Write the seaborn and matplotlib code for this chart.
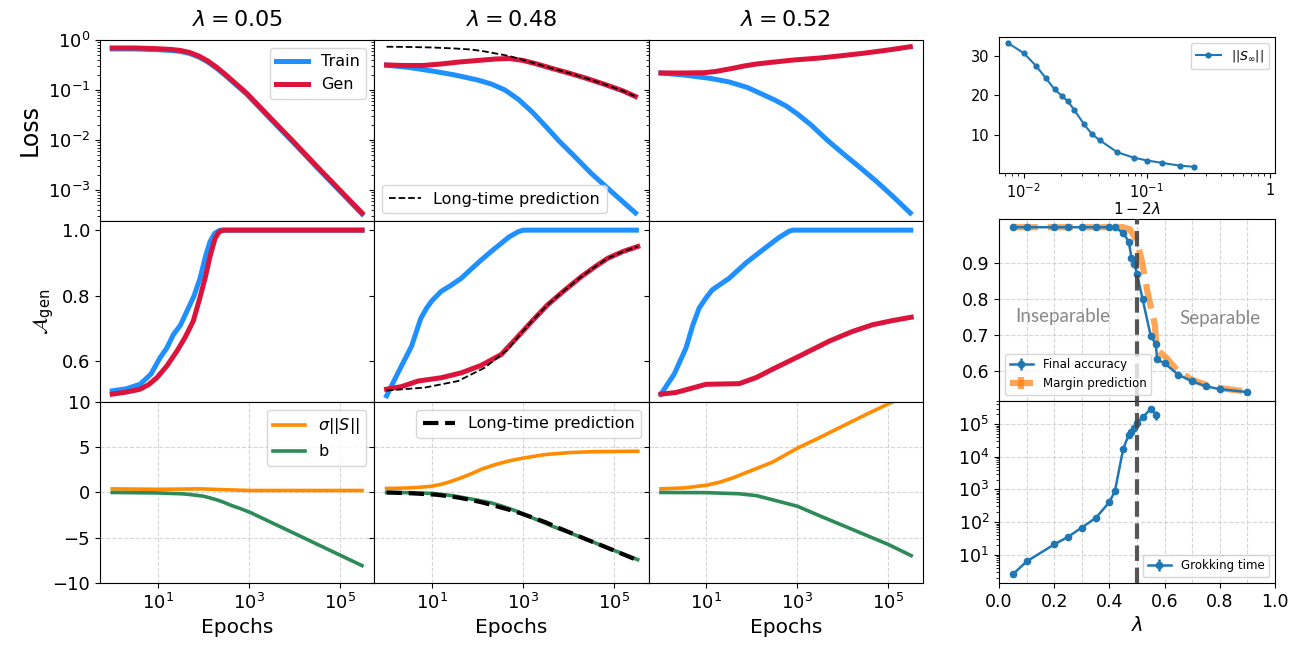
import numpy as np
import matplotlib
matplotlib.use("Agg")
import matplotlib.pyplot as plt
import matplotlib.ticker as mticker
import seaborn as sns

plt.rcParams['font.family'] = ['DejaVu Sans']
plt.rcParams['mathtext.fontset'] = 'dejavusans'

# ---------------- data (log10 epochs, values) ----------------
lambdas_cols = ["0.05", "0.48", "0.52"]

# column 1: lambda = 0.05
c1_loss_train_lx = [0, 0.5, 1.0, 1.3, 1.5, 1.7, 1.9, 2.1, 2.3, 2.5, 2.7, 2.95, 3.5, 4.0, 4.5, 5.0, 5.49]
c1_loss_train_ly = [-0.18, -0.18, -0.195, -0.21, -0.23, -0.27, -0.34, -0.44, -0.57, -0.72, -0.88, -1.08, -1.6, -2.07, -2.55, -3.02, -3.48]
c1_loss_gen_lx = [0, 0.5, 1.0, 1.3, 1.5, 1.7, 1.9, 2.1, 2.3, 2.5, 2.7, 2.95, 3.5, 4.0, 4.5, 5.0, 5.49]
c1_loss_gen_ly = [-0.16, -0.16, -0.175, -0.19, -0.21, -0.25, -0.32, -0.42, -0.55, -0.70, -0.86, -1.06, -1.58, -2.05, -2.53, -3.0, -3.46]
c1_acc_train_lx = [0, 0.3, 0.61, 0.85, 1.05, 1.2, 1.34, 1.5, 1.64, 1.8, 1.93, 2.05, 2.15, 2.25, 2.37, 5.49]
c1_acc_train = [0.509, 0.515, 0.529, 0.56, 0.61, 0.64, 0.68, 0.71, 0.752, 0.80, 0.853, 0.92, 0.965, 0.99, 1.0, 1.0]
c1_acc_gen_lx = [0, 0.3, 0.61, 0.8, 0.98, 1.2, 1.42, 1.6, 1.78, 1.92, 2.04, 2.15, 2.26, 2.35, 2.44, 5.49]
c1_acc_gen = [0.499, 0.505, 0.514, 0.528, 0.549, 0.585, 0.63, 0.672, 0.722, 0.79, 0.853, 0.92, 0.975, 0.995, 1.0, 1.0]
c1_sig_lx = [0, 1.0, 1.93, 2.5, 3.03, 5.49]
c1_sig = [0.4, 0.35, 0.4, 0.3, 0.22, 0.22]
c1_b_lx = [0, 1.0, 1.56, 1.8, 2.0, 2.15, 2.29, 2.45, 2.6, 2.8, 3.03, 3.5, 4.12, 4.8, 5.49]
c1_b = [0, -0.05, -0.15, -0.28, -0.4, -0.6, -0.8, -1.08, -1.4, -1.75, -2.2, -3.32, -4.8, -6.43, -8.08]

# column 2: lambda = 0.48
c2_loss_train_lx = [0, 0.5, 1.0, 1.5, 2.0, 2.3, 2.6, 2.9, 3.2, 3.5, 3.8, 4.1, 4.5, 5.0, 5.47]
c2_loss_train_ly = [-0.504, -0.55, -0.62, -0.7, -0.8, -0.88, -1.0, -1.19, -1.44, -1.73, -2.03, -2.3, -2.67, -3.08, -3.46]
c2_loss_gen_lx = [0, 0.4, 0.8, 1.2, 1.6, 2.0, 2.4, 2.7, 3.0, 3.3, 3.64, 4.0, 4.4, 4.8, 5.2, 5.47]
c2_loss_gen_ly = [-0.5, -0.51, -0.51, -0.48, -0.44, -0.41, -0.38, -0.37, -0.41, -0.48, -0.57, -0.66, -0.77, -0.89, -1.02, -1.13]
c2_loss_pred_lx = [0, 0.5, 1.0, 1.5, 1.84, 2.1, 2.4, 2.69, 3.0, 3.3, 3.64, 4.0, 4.4, 4.8, 5.2, 5.47]
c2_loss_pred_ly = [-0.135, -0.14, -0.15, -0.17, -0.19, -0.22, -0.27, -0.32, -0.4, -0.48, -0.57, -0.66, -0.77, -0.89, -1.02, -1.13]
c2_acc_train_lx = [0, 0.25, 0.55, 0.75, 0.88, 1.0, 1.2, 1.4, 1.64, 1.85, 2.08, 2.3, 2.52, 2.7, 2.89, 3.0, 5.49]
c2_acc_train = [0.494, 0.564, 0.646, 0.73, 0.762, 0.785, 0.813, 0.83, 0.853, 0.88, 0.909, 0.935, 0.96, 0.98, 0.995, 1.0, 1.0]
c2_acc_gen_lx = [0, 0.33, 0.69, 1.2, 1.64, 2.08, 2.52, 2.96, 3.25, 3.54, 3.9, 4.28, 4.6, 4.86, 5.2, 5.52]
c2_acc_gen = [0.514, 0.522, 0.539, 0.549, 0.564, 0.587, 0.62, 0.686, 0.73, 0.772, 0.815, 0.858, 0.89, 0.914, 0.935, 0.95]
c2_acc_pred_lx = [0, 0.84, 1.57, 2.16, 2.67, 2.96, 3.25, 3.54, 3.9, 4.28, 4.6, 4.86, 5.2, 5.52]
c2_acc_pred = [0.51, 0.519, 0.539, 0.58, 0.636, 0.686, 0.73, 0.772, 0.815, 0.858, 0.89, 0.914, 0.935, 0.95]
c2_sig_lx = [0, 0.5, 0.95, 1.2, 1.4, 1.6, 1.83, 2.1, 2.4, 2.7, 3.0, 3.5, 4.02, 4.5, 5.52]
c2_sig = [0.44, 0.5, 0.66, 0.9, 1.2, 1.55, 2.0, 2.6, 3.1, 3.5, 3.8, 4.2, 4.41, 4.5, 4.56]
c2_b_lx = [0, 0.5, 1.0, 1.46, 2.0, 2.3, 2.56, 2.85, 3.1, 3.4, 3.65, 4.1, 4.5, 5.0, 5.52]
c2_b = [0, -0.02, -0.1, -0.36, -0.85, -1.15, -1.54, -2.05, -2.6, -3.2, -3.75, -4.6, -5.4, -6.4, -7.42]
c2_b_pred_lx = [0, 0.5, 1.1, 1.5, 1.83, 2.1, 2.4, 2.7, 2.93, 3.2, 3.5, 3.75, 4.02, 4.4, 4.8, 5.52]
c2_b_pred = [0, -0.08, -0.25, -0.5, -0.8, -1.1, -1.5, -1.92, -2.27, -2.75, -3.3, -3.85, -4.4, -5.2, -6.0, -7.5]

# column 3: lambda = 0.52
c3_loss_train_lx = [0, 0.5, 1.1, 1.5, 1.9, 2.19, 2.5, 2.75, 3.0, 3.3, 3.65, 4.0, 4.4, 4.75, 5.1, 5.48]
c3_loss_train_ly = [-0.66, -0.7, -0.77, -0.84, -0.95, -1.07, -1.2, -1.32, -1.48, -1.7, -2.0, -2.27, -2.57, -2.84, -3.13, -3.46]
c3_loss_gen_lx = [0, 0.5, 0.95, 1.2, 1.5, 1.83, 2.1, 2.4, 2.92, 3.5, 4.02, 4.5, 5.0, 5.48]
c3_loss_gen_ly = [-0.66, -0.66, -0.655, -0.63, -0.58, -0.52, -0.48, -0.45, -0.4, -0.36, -0.31, -0.26, -0.2, -0.135]
c3_acc_train_lx = [0, 0.29, 0.55, 0.7, 0.84, 1.0, 1.13, 1.5, 1.87, 2.1, 2.38, 2.6, 2.82, 2.9, 5.49]
c3_acc_train = [0.499, 0.56, 0.64, 0.71, 0.762, 0.795, 0.818, 0.853, 0.9, 0.925, 0.955, 0.978, 0.997, 1.0, 1.0]
c3_acc_gen_lx = [0, 0.33, 0.99, 1.72, 2.1, 2.45, 3.04, 3.7, 4.2, 4.65, 5.1, 5.5]
c3_acc_gen = [0.499, 0.504, 0.529, 0.531, 0.55, 0.575, 0.615, 0.661, 0.69, 0.711, 0.724, 0.734]
c3_sig_lx = [0, 0.5, 1.0, 1.3, 1.6, 2.0, 2.45, 3.0, 3.5, 4.0, 4.5, 5.0, 5.49]
c3_sig = [0.41, 0.5, 0.8, 1.15, 1.65, 2.45, 3.35, 4.9, 6.1, 7.35, 8.6, 9.8, 10.9]
c3_b_lx = [0, 1.0, 1.72, 2.1, 2.45, 3.0, 3.5, 4.0, 4.5, 5.0, 5.5]
c3_b = [0, -0.02, -0.14, -0.35, -0.8, -1.52, -2.6, -3.65, -4.7, -5.75, -6.98]

# right column
norm_x = [0.0075, 0.01, 0.0126, 0.0152, 0.0178, 0.0204, 0.0229, 0.0257, 0.031, 0.036,
          0.0415, 0.0575, 0.0786, 0.101, 0.133, 0.186, 0.244]
norm_y = [33.1, 30.6, 27.4, 24.2, 21.5, 19.8, 18.4, 16.3, 12.6, 10.1, 8.6, 5.6, 4.2, 3.5, 2.9, 2.2, 1.9]

acc_lam = [0.05, 0.1, 0.2, 0.25, 0.3, 0.35, 0.4, 0.42, 0.45, 0.47, 0.48, 0.49, 0.5, 0.52,
           0.55, 0.568, 0.573, 0.6, 0.65, 0.7, 0.75, 0.8, 0.9]
acc_final = [1.0, 1.0, 1.0, 1.0, 1.0, 1.0, 1.0, 1.0, 0.984, 0.96, 0.915, 0.898, 0.87, 0.80,
             0.696, 0.674, 0.631, 0.62, 0.588, 0.57, 0.556, 0.548, 0.54]
acc_err = [0.002, 0.002, 0.002, 0.002, 0.002, 0.002, 0.002, 0.002, 0.004, 0.005, 0.006, 0.006, 0.006,
           0.005, 0.005, 0.005, 0.005, 0.004, 0.003, 0.003, 0.003, 0.003, 0.003]
marg_lam = [0.05, 0.1, 0.2, 0.25, 0.3, 0.35, 0.4, 0.45, 0.474, 0.498, 0.516, 0.54, 0.565, 0.571,
            0.607, 0.65, 0.7, 0.75, 0.8, 0.9]
marg_pred = [1.0, 1.0, 1.0, 1.0, 1.0, 1.0, 1.0, 1.0, 0.994, 0.965, 0.912, 0.812, 0.726, 0.659,
             0.635, 0.597, 0.574, 0.56, 0.551, 0.541]
grok_lam = [0.05, 0.1, 0.2, 0.25, 0.3, 0.35, 0.4, 0.42, 0.45, 0.47, 0.48, 0.49, 0.5, 0.52, 0.55, 0.57]
grok_time = [2.5, 6.2, 20.6, 35, 68, 132, 407, 890, 17400, 47000, 59000, 75000, 110000, 160000,
             290000, 190000]
grok_err = [0.1, 0.3, 1, 2, 3, 6, 30, 80, 1500, 4000, 6000, 8000, 10000, 15000, 30000, 60000]

# ---------------- styling ----------------
C_TRAIN = "#1E90FF"
C_GEN = "#DC143C"
C_SIG = "#FF8C00"
C_B = "#2E8B57"

fig = plt.figure(figsize=(13.03, 6.5), dpi=100)
gs = fig.add_gridspec(3, 3, left=0.0767, right=0.7084, top=0.9385, bottom=0.1031,
                      hspace=0, wspace=0)
axes = np.empty((3, 3), dtype=object)
for r in range(3):
    for c in range(3):
        kw = {}
        if r > 0 or c > 0:
            kw['sharex'] = axes[0, 0]
        if c > 0:
            kw['sharey'] = axes[r, 0]
        axes[r, c] = fig.add_subplot(gs[r, c], **kw)


def ep(lx):
    return np.power(10.0, np.asarray(lx, dtype=float))


def line(ax, lx, y, color, lw, ls='-', label=None, logy=False, zorder=2):
    yy = np.power(10.0, np.asarray(y, dtype=float)) if logy else np.asarray(y, dtype=float)
    sns.lineplot(x=ep(lx), y=yy, ax=ax, color=color, lw=lw, linestyle=ls,
                 label=label, legend=False, zorder=zorder, sort=False)


LW_BIG = 3.6
LW_MID = 2.6

loss_sets = [
    (c1_loss_train_lx, c1_loss_train_ly, c1_loss_gen_lx, c1_loss_gen_ly),
    (c2_loss_train_lx, c2_loss_train_ly, c2_loss_gen_lx, c2_loss_gen_ly),
    (c3_loss_train_lx, c3_loss_train_ly, c3_loss_gen_lx, c3_loss_gen_ly),
]
acc_sets = [
    (c1_acc_train_lx, c1_acc_train, c1_acc_gen_lx, c1_acc_gen),
    (c2_acc_train_lx, c2_acc_train, c2_acc_gen_lx, c2_acc_gen),
    (c3_acc_train_lx, c3_acc_train, c3_acc_gen_lx, c3_acc_gen),
]
sb_sets = [
    (c1_sig_lx, c1_sig, c1_b_lx, c1_b),
    (c2_sig_lx, c2_sig, c2_b_lx, c2_b),
    (c3_sig_lx, c3_sig, c3_b_lx, c3_b),
]

for c in range(3):
    ax = axes[0, c]
    ax.set_xscale('log')
    ax.set_yscale('log')
    tlx, tly, glx, gly = loss_sets[c]
    line(ax, tlx, tly, C_TRAIN, LW_BIG, label='Train', logy=True)
    line(ax, glx, gly, C_GEN, LW_BIG, label='Gen', logy=True)
    ax.set_title(r'$\lambda = %s$' % lambdas_cols[c], fontsize=16, pad=10)

    ax = axes[1, c]
    tlx, ty, glx, gy = acc_sets[c]
    line(ax, tlx, ty, C_TRAIN, LW_BIG)
    line(ax, glx, gy, C_GEN, LW_BIG)

    ax = axes[2, c]
    slx, sy, blx, by = sb_sets[c]
    line(ax, slx, sy, C_SIG, LW_MID, label=r'$\sigma||S||$')
    line(ax, blx, by, C_B, LW_MID, label='b')
    ax.grid(True, ls='--', color='#cccccc', lw=0.8, alpha=0.8)
    ax.set_axisbelow(True)

# long-time predictions in column 2
line(axes[0, 1], c2_loss_pred_lx, c2_loss_pred_ly, 'black', 1.3, ls='--',
     label='Long-time prediction', logy=True, zorder=3)
line(axes[1, 1], c2_acc_pred_lx, c2_acc_pred, 'black', 1.3, ls='--', zorder=3)
line(axes[2, 1], c2_b_pred_lx, c2_b_pred, 'black', 3.0, ls='--',
     label='Long-time prediction', zorder=3)

# legends
axes[0, 0].legend(loc='upper right', fontsize=11.5)
h, l = axes[0, 1].get_legend_handles_labels()
axes[0, 1].legend([h[-1]], [l[-1]], loc='lower left', fontsize=11.5)
axes[2, 0].legend(loc='upper right', fontsize=11.5)
h, l = axes[2, 1].get_legend_handles_labels()
axes[2, 1].legend([h[-1]], [l[-1]], loc='upper right', fontsize=11.5)

# axes formatting
axes[0, 0].set_xlim(10 ** -0.27, 10 ** 5.76)
axes[0, 0].xaxis.set_major_locator(mticker.FixedLocator([10, 1e3, 1e5]))
axes[0, 0].xaxis.set_minor_locator(mticker.NullLocator())
axes[0, 0].set_ylim(2.4e-4, 1.0)
axes[0, 0].yaxis.set_major_locator(mticker.FixedLocator([1e-3, 1e-2, 1e-1, 1]))
axes[0, 0].yaxis.set_minor_locator(mticker.LogLocator(base=10, subs=np.arange(2, 10), numticks=20))
axes[1, 0].set_ylim(0.475, 1.028)
axes[1, 0].set_yticks([0.6, 0.8, 1.0])
axes[2, 0].set_ylim(-10, 10)
axes[2, 0].set_yticks([-10, -5, 0, 5, 10])

for r in range(3):
    for c in range(3):
        ax = axes[r, c]
        ax.tick_params(labelsize=13)
        if r < 2:
            ax.tick_params(labelbottom=False)
        if c > 0:
            ax.tick_params(labelleft=False)
    axes[2, r].set_xlabel('Epochs', fontsize=14.5)

axes[0, 0].set_ylabel('Loss', fontsize=17, labelpad=4)
axes[1, 0].set_ylabel(r'$\mathcal{A}_{\rm gen}$', fontsize=15, labelpad=4)
axes[2, 0].set_ylabel('')

# ---------------- right column ----------------
axn = fig.add_axes([0.7667, 0.7338, 0.2118, 0.2092])
axa = fig.add_axes([0.7667, 0.3831, 0.2118, 0.28])
axg = fig.add_axes([0.7667, 0.1031, 0.2118, 0.28], sharex=axa)

C_BLUE = "#1f77b4"
C_OR = "#ff7f0e"

axn.set_xscale('log')
sns.lineplot(x=norm_x, y=norm_y, ax=axn, color=C_BLUE, marker='o', markersize=4.5,
             markeredgewidth=0, lw=1.5, label=r'$||S_\infty||$', sort=False)
axn.set_xlim(0.0063, 1.1)
axn.xaxis.set_major_locator(mticker.FixedLocator([0.01, 0.1, 1]))
axn.set_xticklabels([r'$10^{-2}$', r'$10^{-1}$', '1'])
axn.set_yticks([10, 20, 30])
axn.tick_params(labelsize=10.5)
axn.set_xlabel(r'$1-2\lambda$', fontsize=11, labelpad=0)
axn.legend(loc='upper right', fontsize=9)

axa.errorbar(acc_lam, acc_final, yerr=acc_err, color=C_BLUE, marker='o', markersize=4.5,
             lw=1.8, label='Final accuracy', zorder=3)
axa.errorbar(marg_lam, marg_pred, yerr=[0.0] * len(marg_lam), color=C_OR, ls='--', lw=4.5,
             alpha=0.7, label='Margin prediction', zorder=2, dashes=(4, 1.6))
axa.set_ylim(0.515, 1.023)
axa.set_yticks([0.6, 0.7, 0.8, 0.9])
axa.legend(loc='lower left', fontsize=8.5)
axa.text(0.23, 0.75, 'Inseparable', color='#888888', fontsize=13.5, ha='center',
         va='center', family=['Lato', 'DejaVu Sans'])
axa.text(0.80, 0.745, 'Separable', color='#888888', fontsize=13.5, ha='center',
         va='center', family=['Lato', 'DejaVu Sans'])

axg.set_yscale('log')
axg.errorbar(grok_lam, grok_time, yerr=grok_err, color=C_BLUE, marker='o', markersize=4.5,
             lw=1.8, label='Grokking time', zorder=3)
axg.set_ylim(1.36, 5.1e5)
axg.set_xlim(0, 1)
axg.xaxis.set_major_locator(mticker.MultipleLocator(0.2))
axg.xaxis.set_minor_locator(mticker.MultipleLocator(0.1))
axg.yaxis.set_major_locator(mticker.FixedLocator([10, 100, 1e3, 1e4, 1e5]))
axg.set_xlabel(r'$\lambda$', fontsize=14)
axg.legend(loc='lower right', fontsize=8.5)

for ax in (axa, axg):
    ax.axvline(0.5, color='#444444', ls='--', lw=3, alpha=0.9, zorder=4)
    ax.grid(True, axis='x', which='both', ls='--', color='#cccccc', lw=0.8, alpha=0.8)
    ax.grid(True, axis='y', which='major', ls='--', color='#cccccc', lw=0.8, alpha=0.8)
    ax.set_axisbelow(True)
    ax.tick_params(labelsize=12.5)
    ax.tick_params(which='minor', bottom=False, left=False)
axa.tick_params(labelbottom=False)
axg.tick_params(axis='y', which='minor', left=True)

fig.savefig('out.png', dpi=100)
